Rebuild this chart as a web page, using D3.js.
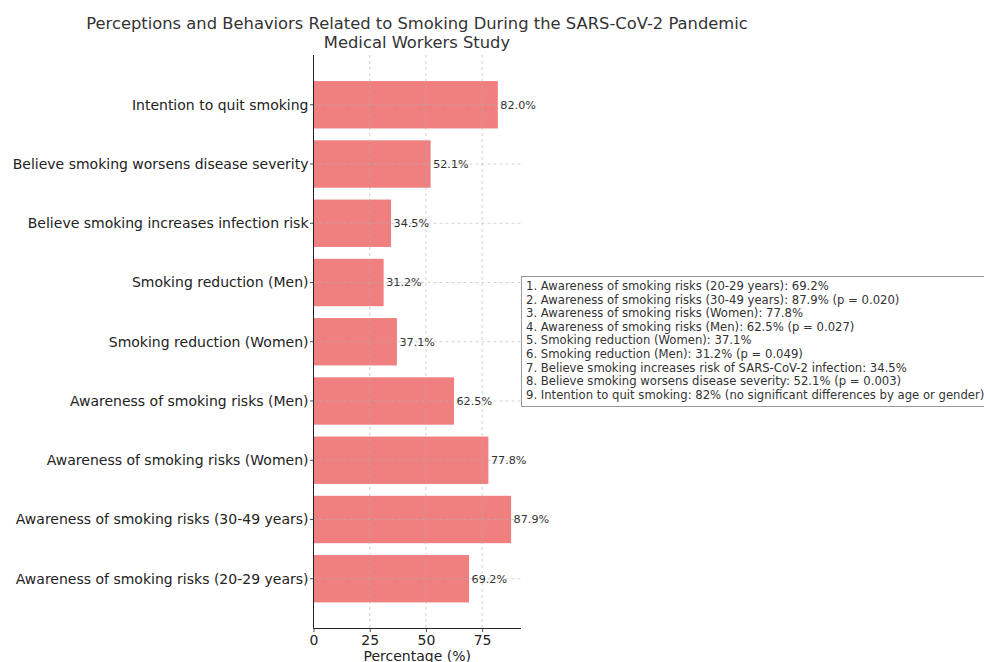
<!DOCTYPE html>
<html><head><meta charset="utf-8">
<script src="https://cdn.jsdelivr.net/npm/d3@7"></script>
<style>body{margin:0;background:#fff;} svg{display:block;font-family:"DejaVu Sans",sans-serif;}</style>
</head><body>
<svg id="c" width="984" height="662"></svg>
<script>
const categories = [
  "Awareness of smoking risks (20-29 years)",
  "Awareness of smoking risks (30-49 years)",
  "Awareness of smoking risks (Women)",
  "Awareness of smoking risks (Men)",
  "Smoking reduction (Women)",
  "Smoking reduction (Men)",
  "Believe smoking increases infection risk",
  "Believe smoking worsens disease severity",
  "Intention to quit smoking"
];
const values = [69.2, 87.9, 77.8, 62.5, 37.1, 31.2, 34.5, 52.1, 82.0];
const xTicks = [0, 25, 50, 75];
const titleLines = ["Perceptions and Behaviors Related to Smoking During the SARS-CoV-2 Pandemic", "Medical Workers Study"];
const legendLines = [
  "1. Awareness of smoking risks (20-29 years): 69.2%",
  "2. Awareness of smoking risks (30-49 years): 87.9% (p = 0.020)",
  "3. Awareness of smoking risks (Women): 77.8%",
  "4. Awareness of smoking risks (Men): 62.5% (p = 0.027)",
  "5. Smoking reduction (Women): 37.1%",
  "6. Smoking reduction (Men): 31.2% (p = 0.049)",
  "7. Believe smoking increases risk of SARS-CoV-2 infection: 34.5%",
  "8. Believe smoking worsens disease severity: 52.1% (p = 0.003)",
  "9. Intention to quit smoking: 82% (no significant differences by age or gender)"
];

const svg = d3.select("#c");
const L = 313.5, R = 521, T = 55, B = 628.5;
const n = categories.length;
const xMax = d3.max(values) * 1.05;
const x = d3.scaleLinear().domain([0, xMax]).range([L, R]);
// index 0 at bottom; matplotlib-style margins
const pad = 0.05 * (n - 1 + 0.8);
const yIdx = d3.scaleLinear().domain([-0.4 - pad, n - 1 + 0.4 + pad]).range([B, T]);
const bh = yIdx(0) - yIdx(0.8);

// bars
svg.append("g").selectAll("rect").data(values).join("rect")
  .attr("x", x(0)).attr("y", (d, i) => yIdx(i + 0.4))
  .attr("width", d => x(d) - x(0)).attr("height", bh)
  .attr("fill", "#F08080");

// grid
svg.append("g").selectAll("line").data(xTicks).join("line")
  .attr("x1", d => x(d)).attr("x2", d => x(d)).attr("y1", T).attr("y2", B)
  .attr("stroke", "#b0b0b0").attr("stroke-width", 0.8).attr("stroke-dasharray", "3,3").attr("opacity", 0.7);
svg.append("g").selectAll("line").data(values).join("line")
  .attr("x1", L).attr("x2", R).attr("y1", (d, i) => yIdx(i)).attr("y2", (d, i) => yIdx(i))
  .attr("stroke", "#b0b0b0").attr("stroke-width", 0.8).attr("stroke-dasharray", "3,3").attr("opacity", 0.7);

// value labels
svg.append("g").selectAll("text").data(values).join("text")
  .attr("x", d => x(d) + 2.5).attr("y", (d, i) => yIdx(i)).attr("dy", "0.35em")
  .attr("font-size", 11.2).attr("fill", "#333")
  .text(d => d.toFixed(1) + "%");

// y axis
svg.append("g").selectAll("text").data(categories).join("text")
  .attr("x", L - 5).attr("y", (d, i) => yIdx(i)).attr("dy", "0.35em")
  .attr("text-anchor", "end").attr("font-size", 14).attr("fill", "#222")
  .text(d => d);
svg.append("g").selectAll("line").data(categories).join("line")
  .attr("x1", L - 3.5).attr("x2", L).attr("y1", (d, i) => yIdx(i)).attr("y2", (d, i) => yIdx(i))
  .attr("stroke", "#222").attr("stroke-width", 0.8);
svg.append("line").attr("x1", L).attr("x2", L).attr("y1", T).attr("y2", B).attr("stroke", "#222").attr("stroke-width", 1);

// x axis
const xAxis = svg.append("g").attr("transform", `translate(0,${B})`)
  .call(d3.axisBottom(x).tickValues(xTicks).tickSize(3.5).tickPadding(3).tickFormat(d3.format("d")));
xAxis.select(".domain").attr("stroke", "#222").attr("d", `M${L},0H${R}`);
xAxis.selectAll(".tick line").attr("stroke", "#222").attr("stroke-width", 0.8);
xAxis.selectAll("text").attr("font-size", 14).attr("fill", "#222").attr("font-family", "DejaVu Sans");

svg.append("text").attr("x", (L + R) / 2).attr("y", 661).attr("text-anchor", "middle")
  .attr("font-size", 14).attr("fill", "#222").text("Percentage (%)");

// title
svg.append("g").selectAll("text").data(titleLines).join("text")
  .attr("x", 417).attr("y", (d, i) => 29 + i * 19).attr("text-anchor", "middle")
  .attr("font-size", 16.35).attr("fill", "#333").text(d => d);

// legend box
const lg = svg.append("g");
lg.append("rect").attr("x", 521.5).attr("y", 276.5).attr("width", 480).attr("height", 130)
  .attr("fill", "#fff").attr("stroke", "#999").attr("stroke-width", 1);
lg.selectAll("text").data(legendLines).join("text")
  .attr("x", 526).attr("y", (d, i) => 290 + i * 13.6)
  .attr("font-size", 11.65).attr("fill", "#333").text(d => d);
</script>
</body></html>
